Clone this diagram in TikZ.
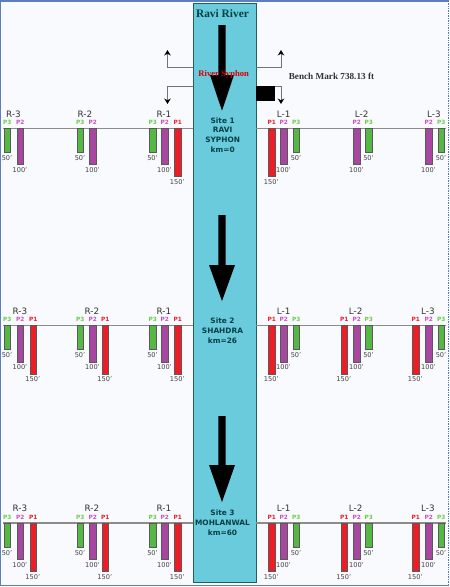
\documentclass[tikz,border=0pt]{standalone}
\usepackage{fontspec}
\setmainfont{Liberation Serif}
\setsansfont{DejaVu Sans}
\usetikzlibrary{
  arrows.meta,
  positioning,
}
\definecolor{river}{HTML}{69CBDB}
\definecolor{riveredge}{HTML}{1F5F66}
\definecolor{pagebg}{HTML}{F9FAFE}
\definecolor{frameblue}{HTML}{5B7FC0}
\definecolor{groundline}{HTML}{8C8C88}
\definecolor{pone}{HTML}{EE1C25}
\definecolor{ptwo}{HTML}{A8479F}
\definecolor{pthree}{HTML}{55B845}
\definecolor{pthreetext}{HTML}{6CCB4A}
\definecolor{ptwotext}{HTML}{CC4FC0}
\definecolor{sitetext}{HTML}{063F46}
\tikzset{
  >=Stealth,
  font=\sffamily,
  groundlabel/.style={font=\sffamily\fontsize{8.8}{10}\selectfont, text=black!80, inner sep=0pt},
  pilelabel/.style={font=\sffamily\bfseries\fontsize{5.8}{6}\selectfont, inner sep=0pt},
  depthlabel/.style={font=\sffamily\fontsize{6.6}{7}\selectfont, text=black!75, inner sep=0pt},
  sitelabel/.style={font=\sffamily\bfseries\fontsize{7.4}{9.8}\selectfont, text=sitetext, align=center, inner sep=0pt},
  titlelabel/.style={font=\rmfamily\bfseries\fontsize{11.4}{12}\selectfont, text=sitetext, inner sep=0pt},
  notelabel/.style={font=\rmfamily\bfseries\fontsize{#1}{10}\selectfont, inner sep=0pt},
  pile/.style={draw=black!65, fill=#1, line width=0.7pt},
  branch/.style={draw=black!55, line width=0.8pt, ->, >={Stealth[length=5.5pt,width=6.5pt,color=black]}},
  flowarrow/.style={fill=black},
}
% piles hang from the ground line: \pileone{x}{line y}
\newcommand{\pileone}[2]{%
  \fill[pile=pone] (#1,#2) rectangle (#1+6.6,#2+48.7);
  \node[pilelabel, text=pone] (pa#1y#2) at (#1+3.3,#2-6) {P1};
  \node[depthlabel] (da#1y#2) at (#1+2.8,#2+53.7) {150'};
}
\newcommand{\piletwo}[2]{%
  \fill[pile=ptwo] (#1,#2) rectangle (#1+6.6,#2+36.7);
  \node[pilelabel, text=ptwotext] (pb#1y#2) at (#1+3.3,#2-6) {P2};
  \node[depthlabel] (db#1y#2) at (#1+3,#2+41.7) {100'};
}
\newcommand{\pilethree}[2]{%
  \fill[pile=pthree] (#1,#2) rectangle (#1+6.6,#2+24.2);
  \node[pilelabel, text=pthreetext] (pc#1y#2) at (#1+3.3,#2-6) {P3};
  \node[depthlabel] (dc#1y#2) at (#1+3,#2+29.7) {50'};
}
\begin{document}
\begin{tikzpicture}[x=1pt,y=-1pt]
  \useasboundingbox (0,0) rectangle (450,587);
  \fill[pagebg] (0,0) rectangle (450,587);
  \draw[frameblue, line width=1.2pt] (449,1) -- (0.6,1) -- (0.6,585.5) -- (449,585.5);
  \draw[frameblue, line width=0.7pt, densely dotted] (448.7,1) -- (448.7,585.5);

  % river
  \fill[river, draw=riveredge, line width=0.9pt] (193.4,3.4) rectangle (256,582.3);
  \node[titlelabel] (title) at (222.5,13.5) {Ravi River};

  % flow arrows
  \foreach \ytop/\ybase/\ytip/\half in {25/75/110.7/12, 215/265/301/13, 416/465/502/13} {
    \fill[flowarrow] (218.3,\ytop) -- (225.7,\ytop) -- (225.7,\ybase) -- (222+\half,\ybase)
      -- (222,\ytip) -- (222-\half,\ybase) -- (218.3,\ybase) -- cycle;
  }

  % syphon branches
  \coordinate (ul) at (193.4,67);
  \coordinate (ula) at (167.5,67);
  \coordinate (ulb) at (167.5,50);
  \coordinate (ll) at (193.4,86);
  \coordinate (lla) at (167.5,86);
  \coordinate (llb) at (167.5,104);
  \coordinate (ur) at (256,67);
  \coordinate (ura) at (281,67);
  \coordinate (urb) at (281,50);
  \coordinate (lr) at (275,86);
  \coordinate (lra) at (281,86);
  \coordinate (lrb) at (281,104);
  \draw[branch] (ul) -- (ula) -- (ulb);
  \draw[branch] (ll) -- (lla) -- (llb);
  \draw[branch] (ur) -- (ura) -- (urb);
  \draw[branch] (lr) -- (lra) -- (lrb);
  \fill[black] (256,86) rectangle (275,100.7);
  \node[notelabel=8.6, text=red!85!black] (syphon) at (223.7,74.5) {River Syphon};
  \node[notelabel=9.2, text=black!80] (bench) at (331.5,76) {Bench Mark 738.13 ft};

  \node[sitelabel] (site1) at (222.7,135) {Site 1\\RAVI\\SYPHON\\km=0};
  \node[sitelabel] (site2) at (222.5,331) {Site 2\\SHAHDRA\\km=26};
  \node[sitelabel] (site3) at (222.5,522.5) {Site 3\\MOHLANWAL\\km=60};

  % ground lines
  \foreach \y/\w in {128/1, 325.5/1, 523/1.5} {
    \draw[groundline, line width=\w pt] (3,\y) -- (193.4,\y);
    \draw[groundline, line width=\w pt] (256,\y) -- (446,\y);
  }
  % labels above the lines
  \foreach \x/\name in {13.5/R-3, 85/R-2, 164/R-1, 283.7/L-1, 361.7/L-2, 434/L-3} {
    \node[groundlabel] (ga\name) at (\x,114) {\name};
  }
  \foreach \y in {311.7,508.7} {
    \foreach \x/\name in {20/R-3, 92/R-2, 164/R-1, 283.7/L-1, 355.7/L-2, 428/L-3} {
      \node[groundlabel] (g\name\y) at (\x,\y) {\name};
    }
  }

  % piles, first site
  \foreach \x in {4,77,149.5} { \pilethree{\x}{128} }
  \foreach \x in {17,89.5,161.5} { \piletwo{\x}{128} }
  \pileone{174.5}{128}
  \pileone{268.5}{128}
  \piletwo{280.5}{128}
  \pilethree{293}{128}
  \piletwo{353.5}{128}
  \pilethree{365.5}{128}
  \piletwo{425.5}{128}
  \pilethree{438}{128}

  % piles, other two sites
  \foreach \y in {325.5,523} {
    \foreach \x in {4,77,149.5} { \pilethree{\x}{\y} }
    \foreach \x in {17,89.5,161.5} { \piletwo{\x}{\y} }
    \foreach \x in {30,102,174.5} { \pileone{\x}{\y} }
    \foreach \x in {268.5,341,412.5} { \pileone{\x}{\y} }
    \foreach \x in {280.5,353.5,425.5} { \piletwo{\x}{\y} }
    \foreach \x in {293,365.5,438} { \pilethree{\x}{\y} }
  }
\end{tikzpicture}
\end{document}
